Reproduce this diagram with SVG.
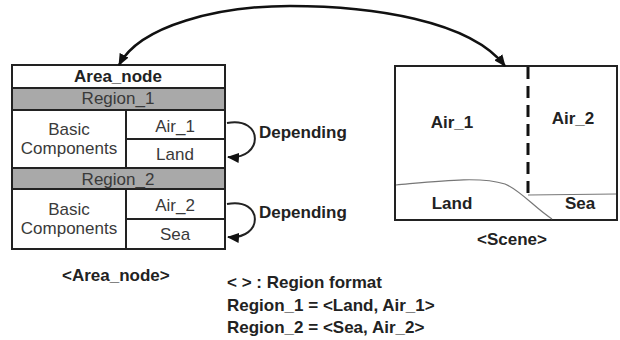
<svg xmlns="http://www.w3.org/2000/svg" width="620" height="340" viewBox="0 0 620 340">
<style>
text{font-family:"Liberation Sans",Arial,sans-serif;font-size:17px;fill:#222}
.b{font-weight:bold}
.c{text-anchor:middle}
.g{fill:#3a3a3a}
.box{fill:#fff;stroke:#222;stroke-width:2}
.band{fill:#a9a9a9;stroke:#222;stroke-width:2}
.ln{stroke:#222;stroke-width:2;fill:none}
.thin{stroke:#777;stroke-width:1.2;fill:none}
.conn{stroke:#111;stroke-width:2.5;fill:none}
</style>
<defs>
<marker id="ah" viewBox="0 0 12 10" refX="11" refY="5" markerWidth="12" markerHeight="10" markerUnits="userSpaceOnUse" orient="auto-start-reverse">
<path d="M0,0 L12,5 L0,10 z" fill="#111"/>
</marker>
</defs>
<rect width="620" height="340" fill="#fff"/>
<g id="area_node">
<rect class="box" x="12" y="65" width="213" height="184"/>
<rect class="band" x="12" y="88" width="213" height="22"/>
<rect class="band" x="12" y="168" width="213" height="21"/>
<line class="ln" x1="126" y1="110" x2="126" y2="168"/>
<line class="ln" x1="126" y1="189" x2="126" y2="249"/>
<line class="ln" x1="126" y1="139" x2="225" y2="139"/>
<line class="ln" x1="126" y1="219" x2="225" y2="219"/>
<text class="b c" x="118" y="82">Area_node</text>
<text class="c g" x="118" y="104">Region_1</text>
<text class="c g" x="69" y="135">Basic</text>
<text class="c g" x="69" y="154">Components</text>
<text class="c g" x="175" y="132">Air_1</text>
<text class="c g" x="175" y="160">Land</text>
<text class="c g" x="118" y="185">Region_2</text>
<text class="c g" x="69" y="215">Basic</text>
<text class="c g" x="69" y="234">Components</text>
<text class="c g" x="175" y="211">Air_2</text>
<text class="c g" x="175" y="240">Sea</text>
<text class="b" x="62" y="281">&lt;Area_node&gt;</text>
</g>
<g id="scene">
<rect class="box" x="395" y="66" width="222" height="154"/>
<line x1="528" y1="67" x2="528" y2="195" stroke="#111" stroke-width="3" stroke-dasharray="12,7"/>
<path class="thin" d="M396,185 C440,181 480,176 505,184 C520,190 535,208 552,219"/>
<path class="thin" d="M528,195 L616,194"/>
<text class="b c" x="452" y="128">Air_1</text>
<text class="b c" x="573" y="124">Air_2</text>
<text class="b c" x="452" y="209">Land</text>
<text class="b c" x="580" y="209">Sea</text>
<text class="b c" x="512" y="245">&lt;Scene&gt;</text>
</g>
<g id="legend">
<text class="b" x="227" y="288">&lt; &gt; : Region format</text>
<text class="b" x="227" y="311">Region_1 = &lt;Land, Air_1&gt;</text>
<text class="b" x="227" y="333">Region_2 = &lt;Sea, Air_2&gt;</text>
</g>
<g id="connectors">
<path class="conn" marker-start="url(#ah)" marker-end="url(#ah)" d="M119,65 C140,25 220,6 290,6 C370,6 470,20 505,66"/>
<path class="ln" marker-end="url(#ah)" d="M227,123 C264,116 264,160 228,157"/>
<text class="b" x="259" y="138">Depending</text>
<path class="ln" marker-end="url(#ah)" d="M227,204 C264,197 264,240 228,237"/>
<text class="b" x="259" y="218">Depending</text>
</g>
</svg>
